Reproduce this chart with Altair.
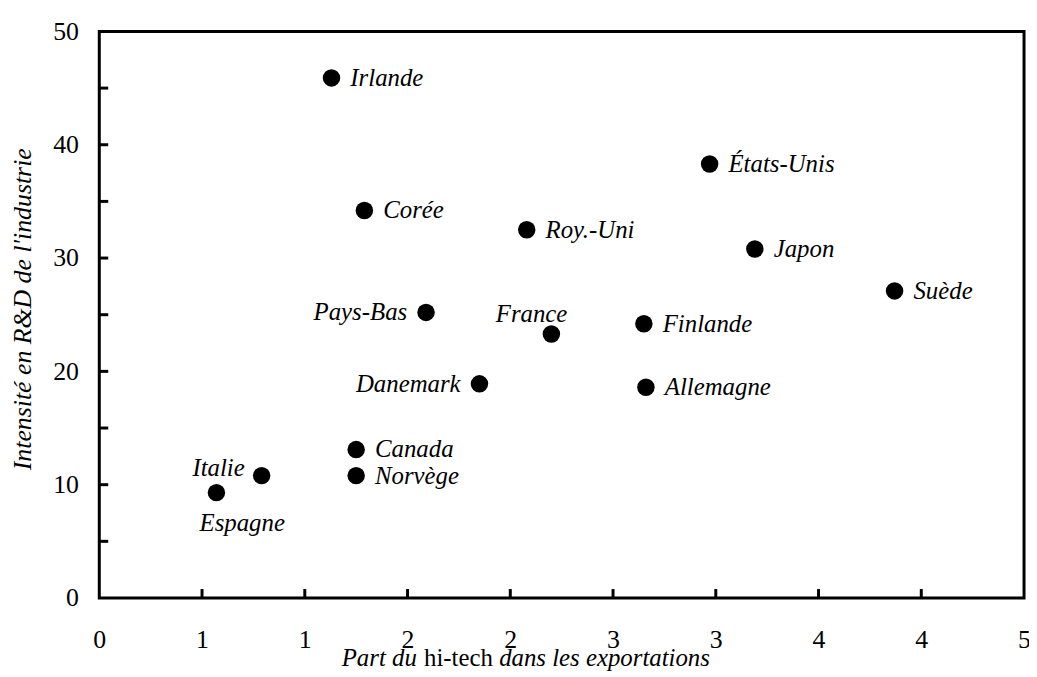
import altair as alt
import pandas as pd

countries = ["Irlande", "Corée", "Roy.-Uni", "États-Unis", "Japon", "Suède",
             "Pays-Bas", "France", "Finlande", "Danemark", "Allemagne",
             "Canada", "Norvège", "Italie", "Espagne"]
hitech_share = [1.13, 1.29, 2.08, 2.97, 3.19, 3.87,
                1.59, 2.2, 2.65, 1.85, 2.66,
                1.25, 1.25, 0.79, 0.57]
rd_intensity = [45.9, 34.2, 32.5, 38.3, 30.8, 27.1,
                25.2, 23.3, 24.2, 18.9, 18.6,
                13.1, 10.8, 10.8, 9.3]

x_tick_values = [0, 0.5, 1, 1.5, 2, 2.5, 3, 3.5, 4, 4.5]
x_inner_ticks = [0.5, 1, 1.5, 2, 2.5, 3, 3.5, 4]
y_label_values = [0, 10, 20, 30, 40, 50]
y_inner_ticks = [5, 10, 15, 20, 25, 30, 35, 40, 45]

labels_right = ["Irlande", "Corée", "Roy.-Uni", "États-Unis", "Japon", "Suède",
                "Finlande", "Allemagne", "Canada", "Norvège"]
labels_left = ["Pays-Bas", "Danemark"]
labels_above = ["France"]
labels_upleft = ["Italie"]
labels_below = ["Espagne"]

df = pd.DataFrame({"pays": countries, "x": hitech_share, "y": rd_intensity})

FONT = "Liberation Serif"
W, H = 932, 571

xs = alt.Scale(domain=[0, 4.5], nice=False, zero=False)
ys = alt.Scale(domain=[0, 50], nice=False)

base = alt.Chart(df)

points = base.mark_circle(size=310, color="black", opacity=1).encode(
    x=alt.X("x:Q", scale=xs, axis=alt.Axis(
        values=x_tick_values, labelExpr="'' + round(datum.value)", title="",
        grid=False, domain=False, ticks=False, tickSize=0, labelPadding=29,
        labelFont=FONT, labelFontSize=26, labelColor="black",
        labelFlush=False, labelOverlap=False)),
    y=alt.Y("y:Q", scale=ys, axis=alt.Axis(
        values=y_label_values, title="", grid=False, domain=False, ticks=False,
        tickSize=0, labelPadding=21, labelFont=FONT, labelFontSize=26,
        labelColor="black", labelFlush=False, labelOverlap=False)),
)


def label_layer(names, align, dx, dy):
    return base.transform_filter(
        alt.FieldOneOfPredicate(field="pays", oneOf=names)
    ).mark_text(font=FONT, fontSize=25, fontStyle="italic", color="black",
                align=align, baseline="middle", dx=dx, dy=dy).encode(
        x=alt.X("x:Q", scale=xs), y=alt.Y("y:Q", scale=ys), text="pays:N")


lab_r = label_layer(labels_right, "left", 19, 0)
lab_l = label_layer(labels_left, "right", -19, 0)
lab_a = label_layer(labels_above, "center", -20, -20)
lab_ul = label_layer(labels_upleft, "right", -17, -8)
lab_b = label_layer(labels_below, "center", 26, 31)

yt = alt.Chart(pd.DataFrame({"v": y_inner_ticks})).mark_rule(
    color="black", strokeWidth=3).encode(
    y=alt.Y("v:Q", scale=ys), x=alt.value(0), x2=alt.value(9))
xt = alt.Chart(pd.DataFrame({"v": x_inner_ticks})).mark_rule(
    color="black", strokeWidth=3).encode(
    x=alt.X("v:Q", scale=xs), y=alt.value(H), y2=alt.value(H - 9))

title_df = pd.DataFrame({"a": [1]})
TY = 640
t1 = alt.Chart(title_df).mark_text(font=FONT, fontSize=25, fontStyle="italic",
                                   align="right", baseline="alphabetic",
                                   color="black").encode(
    x=alt.value(320), y=alt.value(TY), text=alt.value("Part du"))
t2 = alt.Chart(title_df).mark_text(font=FONT, fontSize=25, align="center",
                                   baseline="alphabetic", color="black").encode(
    x=alt.value(362), y=alt.value(TY), text=alt.value("hi-tech"))
t3 = alt.Chart(title_df).mark_text(font=FONT, fontSize=25, fontStyle="italic",
                                   align="left", baseline="alphabetic",
                                   color="black").encode(
    x=alt.value(403), y=alt.value(TY), text=alt.value("dans les exportations"))
ty = alt.Chart(title_df).mark_text(font=FONT, fontSize=26, fontStyle="italic",
                                   align="center", baseline="middle", angle=270,
                                   color="black").encode(
    x=alt.value(-77), y=alt.value(280),
    text=alt.value("Intensité en R&D de l'industrie"))

chart = alt.layer(points, lab_r, lab_l, lab_a, lab_ul, lab_b, yt, xt,
                  t1, t2, t3, ty).properties(
    width=W, height=H,
    autosize=alt.AutoSizeParams(type="none"),
    padding={"left": 92, "top": 21, "right": 5, "bottom": 76},
).configure_view(stroke="black", strokeWidth=3, fill="white")

chart.save("out.html", embed_options={"renderer": "svg", "actions": False})
